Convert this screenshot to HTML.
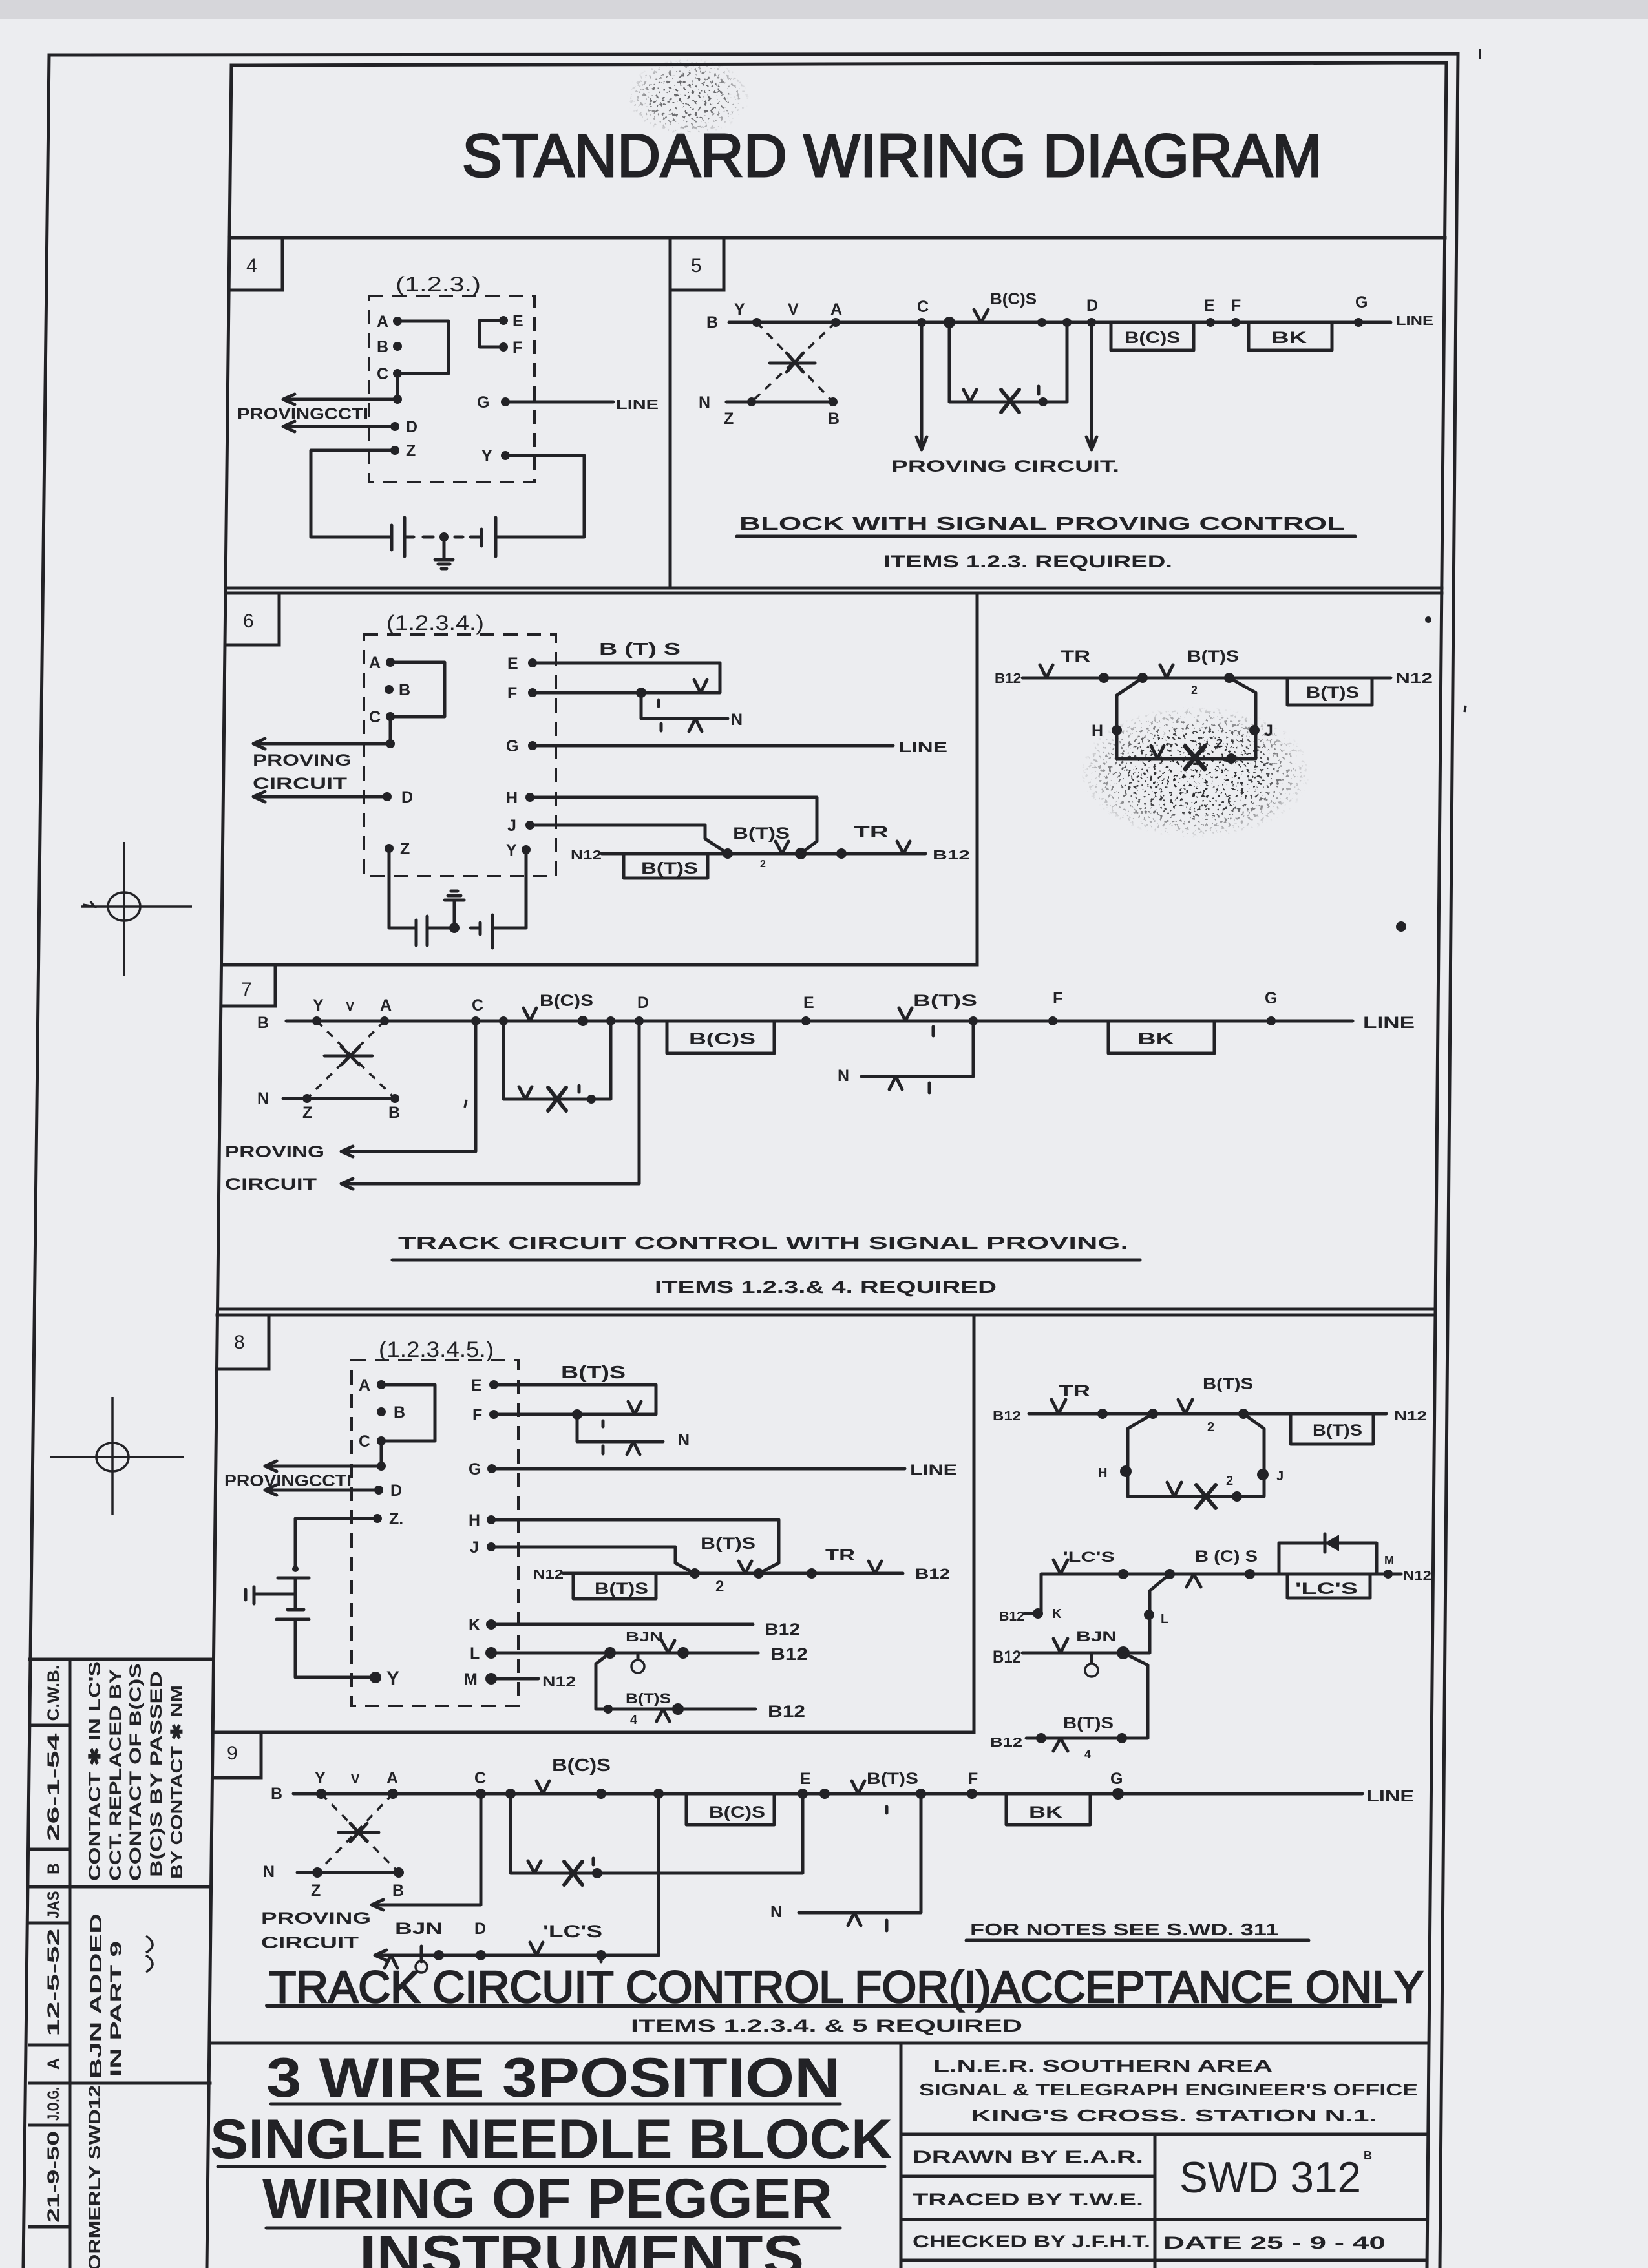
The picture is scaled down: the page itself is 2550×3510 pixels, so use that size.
<!DOCTYPE html>
<html><head><meta charset="utf-8">
<style>
html,body{margin:0;padding:0;background:#ecedf0;width:2550px;height:3510px;overflow:hidden}
svg{display:block}
.l{stroke:#222226;stroke-width:5;fill:none;stroke-linecap:round;stroke-linejoin:round}
.fr{stroke:#222226;stroke-width:5;fill:none;stroke-linecap:square}
.th{stroke:#222226;stroke-width:3.5;fill:none}
.ds{stroke:#222226;stroke-width:4;fill:none;stroke-dasharray:22 14}
.dx{stroke:#222226;stroke-width:3.5;fill:none;stroke-dasharray:12 11}
.k{fill:#222226}
text{font-family:"Liberation Sans",Arial,sans-serif;fill:#222226;font-weight:bold;font-size:25px}
.n{font-weight:normal;font-size:30px}
.sm{font-size:20px}
</style></head><body>
<svg width="2550" height="3510" viewBox="0 0 2550 3510" xmlns="http://www.w3.org/2000/svg">
<defs>
<filter id="spk" x="-10%" y="-10%" width="120%" height="120%" color-interpolation-filters="sRGB">
<feTurbulence type="fractalNoise" baseFrequency="0.2" numOctaves="2" seed="7" result="n"/>
<feColorMatrix in="n" type="matrix" values="0 0 0 0 0.12 0 0 0 0 0.12 0 0 0 0 0.13 50 0 0 0 -31" result="t"/>
<feComposite in="t" in2="SourceGraphic" operator="in"/>
</filter>
<radialGradient id="rg"><stop offset="0" stop-color="#000" stop-opacity="1"/><stop offset="0.6" stop-color="#000" stop-opacity="0.85"/><stop offset="1" stop-color="#000" stop-opacity="0"/></radialGradient>
</defs>
<rect width="2550" height="3510" fill="#ecedf0"/>
<rect width="2550" height="30" fill="#d6d6da"/>
<ellipse cx="1065" cy="150" rx="95" ry="60" fill="url(#rg)" filter="url(#spk)" opacity="0.7"/>
<ellipse cx="1850" cy="1195" rx="178" ry="102" fill="url(#rg)" filter="url(#spk)"/>
<circle class="k" cx="2210" cy="959" r="5"/>
<circle class="k" cx="2168" cy="1434" r="8"/>
<path class="th" d="M2290,76 V92 M2268,1092 L2266,1102"/>

<!-- frames -->
<path class="fr" d="M76,85 L2256,83 L2228,3510 M76,85 L36,3510"/>
<path class="fr" d="M358,101 L2238,97 L2208,3510 M358,101 L320,3510"/>
<path class="fr" d="M355,368 H2236 M349,910 H2231 M349,918 H2231 M343,1493 H1512 M1512,918 V1493 M337,2026 H2221 M336,2035 H2221 M1507,2035 V2681 M329,2681 H1507 M324,3162 H2211 M1037,368 V910"/>
<path class="fr" d="M437,368 V449 H356 M1120,368 V449 H1037 M432,918 V998 H348 M426,1493 V1557 H342 M416,2035 V2119 H335 M404,2681 V2751 H329"/>
<path class="fr" d="M1394,3162 V3510 M1394,3303 H2210 M1787,3303 V3510 M1394,3368 H1787 M1394,3435 H2208 M1394,3498 H2208"/>
<path class="fr" d="M46,2568 H327 M108,2568 V3510 M46,2670 H108 M46,2862 H108 M46,2920 H327 M46,2976 H108 M46,3165 H108 M46,3224 H325 M46,3289 H108 M46,3446 H108"/>

<!-- crosshairs -->
<ellipse cx="192" cy="1403" rx="25" ry="22" class="th"/>
<path class="th" d="M126,1403 H297 M192,1303 V1510 M128,1400 L146,1403 L140,1395"/>
<ellipse cx="174" cy="2255" rx="25" ry="22" class="th"/>
<path class="th" d="M77,2255 H285 M174,2162 V2345"/>

<!-- title -->
<text x="715" y="273" style="font-size:94px;font-weight:normal;stroke:#222226;stroke-width:3" textLength="1331" lengthAdjust="spacingAndGlyphs">STANDARD WIRING DIAGRAM</text>

<!-- PANEL 4 -->
<text class="n" x="381" y="421">4</text>
<text x="612" y="451" style="font-size:32px;font-weight:normal" textLength="132" lengthAdjust="spacingAndGlyphs">(1.2.3.)</text>
<rect x="571" y="458" width="256" height="288" class="ds"/>
<path class="l" d="M615,497 H694 V578 H615 V618 H440 M611,660 H440 M779,496 H742 V537 H779 M782,622 H949 M611,697 H481 V831 H606 M782,705 H904 V831 H767"/>
<path class="l" d="M456,610 L438,618 L456,626 M456,652 L438,660 L456,668"/>
<path class="l" d="M606,813 V851 M626,801 V861 M767,801 V861 M745,819 V845 M626,831 H640 M655,831 H670 M704,831 H716 M728,831 H745"/>
<path class="l" d="M687,831 V864 M673,866 H701 M678,873 H696 M683,880 H691"/>
<g class="k"><circle cx="615" cy="497" r="7"/><circle cx="615" cy="536" r="7"/><circle cx="615" cy="578" r="7"/><circle cx="615" cy="618" r="7"/><circle cx="611" cy="660" r="7"/><circle cx="611" cy="697" r="7"/><circle cx="779" cy="496" r="7"/><circle cx="779" cy="537" r="7"/><circle cx="782" cy="622" r="7"/><circle cx="782" cy="705" r="7"/><circle cx="687" cy="831" r="7"/></g>
<text x="583" y="506">A</text><text x="583" y="545">B</text><text x="583" y="587">C</text><text x="628" y="669">D</text><text x="628" y="706">Z</text>
<text x="793" y="505">E</text><text x="793" y="546">F</text><text x="738" y="631">G</text><text x="745" y="714">Y</text>
<text class="sm" x="953" y="633" textLength="66" lengthAdjust="spacingAndGlyphs">LINE</text>
<text x="367" y="649" textLength="203" lengthAdjust="spacingAndGlyphs">PROVINGCCTI</text>

<!-- PANEL 5 -->
<text class="n" x="1069" y="421">5</text>
<path class="l" d="M1128,499 H2152 M1719,499 V542 H1847 V499 M1932,499 V542 H2061 V499 M1507,479 L1518,499 L1529,479"/>
<path class="dx" d="M1171,499 L1289,622 M1293,499 L1163,622"/>
<path class="l" d="M1191,562 H1261 M1217,546 L1243,576 M1243,546 L1217,576 M1124,622 H1289"/>
<path class="l" d="M1426,499 V694 M1418,676 L1426,696 L1434,676 M1689,499 V694 M1681,676 L1689,696 L1697,676"/>
<path class="l" d="M1469,499 V622 H1651 V499 M1491,603 L1501,622 L1511,603 M1607,598 V610"/>
<path class="l" style="stroke-width:6" d="M1549,603 L1577,638 M1577,603 L1549,638"/>
<g class="k"><circle cx="1171" cy="499" r="7"/><circle cx="1293" cy="499" r="7"/><circle cx="1426" cy="499" r="7"/><circle cx="1469" cy="499" r="9"/><circle cx="1612" cy="499" r="7"/><circle cx="1651" cy="499" r="7"/><circle cx="1689" cy="499" r="7"/><circle cx="1873" cy="499" r="7"/><circle cx="1912" cy="499" r="7"/><circle cx="2102" cy="499" r="7"/><circle cx="1163" cy="622" r="7"/><circle cx="1289" cy="622" r="7"/><circle cx="1614" cy="622" r="7"/></g>
<text x="1093" y="507">B</text><text x="1136" y="487">Y</text><text x="1219" y="487">V</text><text x="1285" y="487">A</text><text x="1419" y="483">C</text>
<text x="1532" y="471" textLength="72" lengthAdjust="spacingAndGlyphs">B(C)S</text>
<text x="1681" y="481">D</text><text x="1863" y="481">E</text><text x="1905" y="481">F</text><text x="2097" y="476">G</text>
<text class="sm" x="2160" y="503" textLength="58" lengthAdjust="spacingAndGlyphs">LINE</text>
<text x="1740" y="531" textLength="86" lengthAdjust="spacingAndGlyphs">B(C)S</text>
<text x="1967" y="531" textLength="55" lengthAdjust="spacingAndGlyphs">BK</text>
<text x="1081" y="631">N</text><text x="1120" y="656">Z</text><text x="1281" y="656">B</text>
<text x="1379" y="730" textLength="353" lengthAdjust="spacingAndGlyphs">PROVING CIRCUIT.</text>
<text x="1144" y="820" style="font-size:29px" textLength="937" lengthAdjust="spacingAndGlyphs">BLOCK WITH SIGNAL PROVING CONTROL</text>
<path class="l" d="M1140,830 H2097"/>
<text x="1367" y="878" style="font-size:27px" textLength="447" lengthAdjust="spacingAndGlyphs">ITEMS 1.2.3. REQUIRED.</text>

<!-- PANEL 6 -->
<text class="n" x="376" y="971">6</text>
<text x="598" y="975" style="font-size:32px;font-weight:normal" textLength="151" lengthAdjust="spacingAndGlyphs">(1.2.3.4.)</text>
<rect x="563" y="982" width="297" height="374" class="ds"/>
<path class="l" d="M604,1025 H688 V1109 H604 V1151 H394 M599,1233 H394 M410,1143 L392,1151 L410,1159 M410,1225 L392,1233 L410,1241"/>
<path class="l" d="M824,1026 H1114 V1072 H824 M1074,1052 L1084,1072 L1094,1052 M992,1072 V1112 H1126 M1066,1132 L1076,1112 L1086,1132 M1019,1084 V1093 M1023,1120 V1131"/>
<path class="l" d="M824,1154 H1382 M820,1234 H1264 V1302 L1239,1321 M820,1277 H1091 V1298 L1126,1321 M931,1321 H1432 M965,1321 V1359 H1095 V1321 M1200,1302 L1210,1321 L1220,1302 M1388,1302 L1398,1321 L1408,1302"/>
<path class="l" d="M602,1313 V1436 H644 M814,1315 V1436 H762 M644,1424 V1463 M661,1418 V1463 M661,1436 H703 M728,1436 H743 M743,1428 V1446 M762,1416 V1467 M703,1436 V1395 M688,1393 H718 M693,1386 H713 M698,1379 H708"/>
<g class="k"><circle cx="604" cy="1025" r="7"/><circle cx="602" cy="1067" r="7"/><circle cx="604" cy="1109" r="7"/><circle cx="604" cy="1151" r="7"/><circle cx="599" cy="1233" r="7"/><circle cx="602" cy="1313" r="7"/><circle cx="824" cy="1026" r="7"/><circle cx="824" cy="1072" r="7"/><circle cx="824" cy="1154" r="7"/><circle cx="820" cy="1234" r="7"/><circle cx="820" cy="1277" r="7"/><circle cx="814" cy="1315" r="7"/><circle cx="992" cy="1072" r="8"/><circle cx="1126" cy="1321" r="8"/><circle cx="1239" cy="1321" r="9"/><circle cx="1302" cy="1321" r="8"/><circle cx="703" cy="1436" r="8"/></g>
<text x="571" y="1034">A</text><text x="617" y="1076">B</text><text x="571" y="1118">C</text><text x="621" y="1242">D</text><text x="619" y="1322">Z</text>
<text x="785" y="1035">E</text><text x="785" y="1081">F</text><text x="783" y="1163">G</text><text x="783" y="1243">H</text><text x="785" y="1286">J</text><text x="783" y="1324">Y</text>
<text x="391" y="1185" textLength="153" lengthAdjust="spacingAndGlyphs">PROVING</text>
<text x="391" y="1221" textLength="146" lengthAdjust="spacingAndGlyphs">CIRCUIT</text>
<text x="927" y="1013" style="font-size:26px" textLength="126" lengthAdjust="spacingAndGlyphs">B (T) S</text>
<text x="1131" y="1122">N</text>
<text style="font-size:22px" x="1390" y="1164" textLength="76" lengthAdjust="spacingAndGlyphs">LINE</text>
<text class="sm" x="883" y="1330" textLength="48" lengthAdjust="spacingAndGlyphs">N12</text>
<text class="sm" x="1443" y="1330" textLength="58" lengthAdjust="spacingAndGlyphs">B12</text>
<text x="992" y="1352" textLength="88" lengthAdjust="spacingAndGlyphs">B(T)S</text>
<text x="1134" y="1298" textLength="88" lengthAdjust="spacingAndGlyphs">B(T)S</text>
<text style="font-size:16px" x="1176" y="1342">2</text>
<text x="1321" y="1296" textLength="54" lengthAdjust="spacingAndGlyphs">TR</text>

<!-- PANEL 6 RIGHT -->
<path class="l" d="M1582,1049 H2152 M1609,1029 L1619,1049 L1629,1029 M1795,1029 L1805,1049 L1815,1029 M1992,1049 V1091 H2123 V1049 M1768,1049 L1728,1076 V1174 H1943 V1072 L1902,1049 M1781,1154 L1791,1174 L1801,1154"/>
<path class="l" style="stroke-width:7" d="M1834,1155 L1864,1190 M1864,1155 L1834,1190"/>
<g class="k"><circle cx="1708" cy="1049" r="8"/><circle cx="1768" cy="1049" r="8"/><circle cx="1902" cy="1049" r="8"/><circle cx="1728" cy="1130" r="8"/><circle cx="1941" cy="1130" r="8"/><circle cx="1905" cy="1174" r="8"/></g>
<text style="font-size:22px" x="1539" y="1057" textLength="41" lengthAdjust="spacingAndGlyphs">B12</text>
<text style="font-size:22px" x="2159" y="1057" textLength="58" lengthAdjust="spacingAndGlyphs">N12</text>
<text x="1641" y="1024" textLength="46" lengthAdjust="spacingAndGlyphs">TR</text>
<text x="1837" y="1024" textLength="80" lengthAdjust="spacingAndGlyphs">B(T)S</text>
<text style="font-size:18px" x="1843" y="1074">2</text>
<text x="2021" y="1080" textLength="82" lengthAdjust="spacingAndGlyphs">B(T)S</text>
<text x="1689" y="1139">H</text><text x="1956" y="1139">J</text>
<text style="font-size:18px" x="1882" y="1156">2</text>

<!-- PANEL 7 -->
<text class="n" x="373" y="1541">7</text>
<path class="l" d="M443,1580 H2093 M810,1560 L820,1580 L830,1560 M1391,1560 L1401,1580 L1411,1560 M1444,1589 V1603 M1032,1580 V1630 H1198 V1580 M1715,1580 V1630 H1879 V1580"/>
<path class="dx" d="M490,1580 L611,1700 M595,1580 L475,1700"/>
<path class="l" d="M502,1634 H576 M528,1620 L556,1648 M556,1620 L528,1648 M438,1700 H611"/>
<path class="l" d="M736,1580 V1782 H530 M546,1774 L528,1782 L546,1790 M989,1580 V1832 H530 M546,1824 L528,1832 L546,1840"/>
<path class="l" d="M779,1580 V1701 H945 V1580 M803,1682 L813,1701 L823,1682 M896,1680 V1690 M1506,1580 V1666 H1333 M1376,1686 L1386,1666 L1396,1686 M1438,1676 V1691"/>
<path class="l" style="stroke-width:6" d="M848,1683 L876,1719 M876,1683 L848,1719"/>
<path class="th" d="M722,1702 L719,1714"/>
<g class="k"><circle cx="490" cy="1580" r="7"/><circle cx="595" cy="1580" r="7"/><circle cx="736" cy="1580" r="7"/><circle cx="779" cy="1580" r="7"/><circle cx="902" cy="1580" r="8"/><circle cx="945" cy="1580" r="7"/><circle cx="989" cy="1580" r="7"/><circle cx="1247" cy="1580" r="7"/><circle cx="1506" cy="1580" r="7"/><circle cx="1629" cy="1580" r="7"/><circle cx="1967" cy="1580" r="7"/><circle cx="475" cy="1700" r="7"/><circle cx="611" cy="1700" r="7"/><circle cx="915" cy="1701" r="7"/></g>
<text x="398" y="1591">B</text><text x="484" y="1564">Y</text><text class="sm" x="535" y="1564">V</text><text x="588" y="1564">A</text><text x="730" y="1564">C</text>
<text x="835" y="1557" textLength="83" lengthAdjust="spacingAndGlyphs">B(C)S</text>
<text x="986" y="1560">D</text><text x="1243" y="1560">E</text>
<text x="1413" y="1557" textLength="99" lengthAdjust="spacingAndGlyphs">B(T)S</text>
<text x="1629" y="1553">F</text><text x="1957" y="1553">G</text>
<text x="2109" y="1591" textLength="80" lengthAdjust="spacingAndGlyphs">LINE</text>
<text x="1066" y="1616" textLength="103" lengthAdjust="spacingAndGlyphs">B(C)S</text>
<text x="1760" y="1616" textLength="57" lengthAdjust="spacingAndGlyphs">BK</text>
<text x="398" y="1708">N</text><text x="468" y="1730">Z</text><text x="601" y="1730">B</text>
<text x="1296" y="1673">N</text>
<text x="348" y="1791" textLength="154" lengthAdjust="spacingAndGlyphs">PROVING</text>
<text x="348" y="1841" textLength="142" lengthAdjust="spacingAndGlyphs">CIRCUIT</text>
<text x="616" y="1933" style="font-size:28px" textLength="1130" lengthAdjust="spacingAndGlyphs">TRACK CIRCUIT CONTROL WITH SIGNAL PROVING.</text>
<path class="l" d="M607,1950 H1764"/>
<text x="1013" y="2001" style="font-size:27px" textLength="529" lengthAdjust="spacingAndGlyphs">ITEMS 1.2.3.&amp; 4. REQUIRED</text>

<!-- PANEL 8 -->
<text class="n" x="362" y="2087">8</text>
<text x="586" y="2100" style="font-size:34px;font-weight:normal" textLength="178" lengthAdjust="spacingAndGlyphs">(1.2.3.4.5.)</text>
<rect x="544" y="2105" width="258" height="535" class="ds"/>
<path class="l" d="M590,2143 H673 V2230 H590 V2269 H412 M586,2306 H412 M428,2261 L410,2269 L428,2277 M428,2298 L410,2306 L428,2314"/>
<path class="l" d="M584,2350 H457 V2428 M430,2442 H478 M457,2442 V2491 M457,2467 H393 M393,2456 V2482 M380,2460 V2476 M445,2491 H470 M428,2506 H478 M457,2506 V2596 H581"/>
<path class="l" d="M764,2143 H1015 V2189 H764 M972,2169 L982,2189 L992,2169 M893,2189 V2231 H1026 M970,2251 L980,2231 L990,2251 M933,2199 V2208 M933,2238 V2250"/>
<path class="l" d="M761,2273 H1400 M760,2352 H1205 V2419 L1174,2435 M760,2394 H1045 V2419 L1075,2435 M872,2435 H1397 M887,2435 V2474 H1015 V2435 M1143,2416 L1153,2435 L1163,2416 M1344,2416 L1354,2435 L1364,2416"/>
<path class="l" d="M760,2514 H1165 M760,2558 H1173 M1024,2539 L1034,2558 L1044,2539 M987,2558 V2568 M944,2558 L922,2575 V2645 H1169 M1016,2664 L1026,2645 L1036,2664 M760,2598 H833"/>
<circle cx="987" cy="2579" r="10" class="th"/>
<g class="k"><circle cx="590" cy="2143" r="7"/><circle cx="590" cy="2185" r="7"/><circle cx="590" cy="2230" r="7"/><circle cx="590" cy="2269" r="7"/><circle cx="586" cy="2306" r="7"/><circle cx="584" cy="2350" r="7"/><circle cx="581" cy="2596" r="9"/><circle cx="457" cy="2428" r="5"/><circle cx="764" cy="2143" r="7"/><circle cx="764" cy="2189" r="7"/><circle cx="761" cy="2273" r="7"/><circle cx="760" cy="2352" r="7"/><circle cx="760" cy="2394" r="7"/><circle cx="760" cy="2514" r="8"/><circle cx="760" cy="2558" r="9"/><circle cx="760" cy="2598" r="9"/><circle cx="893" cy="2189" r="8"/><circle cx="1075" cy="2435" r="8"/><circle cx="1174" cy="2435" r="8"/><circle cx="1256" cy="2435" r="8"/><circle cx="944" cy="2558" r="9"/><circle cx="1057" cy="2558" r="9"/><circle cx="941" cy="2645" r="7"/><circle cx="1049" cy="2645" r="9"/></g>
<text x="555" y="2152">A</text><text x="609" y="2194">B</text><text x="555" y="2239">C</text><text x="604" y="2315">D</text><text x="602" y="2359">Z.</text>
<text x="598" y="2607" style="font-size:30px">Y</text>
<text x="729" y="2152">E</text><text x="731" y="2198">F</text><text x="725" y="2282">G</text><text x="725" y="2361">H</text><text x="727" y="2403">J</text>
<text x="725" y="2523">K</text><text x="727" y="2567">L</text><text x="718" y="2607">M</text>
<text x="347" y="2300" textLength="197" lengthAdjust="spacingAndGlyphs">PROVINGCCTI</text>
<text x="868" y="2133" style="font-size:28px" textLength="100" lengthAdjust="spacingAndGlyphs">B(T)S</text>
<text x="1049" y="2237">N</text>
<text style="font-size:22px" x="1408" y="2282" textLength="73" lengthAdjust="spacingAndGlyphs">LINE</text>
<text class="sm" x="825" y="2443" textLength="47" lengthAdjust="spacingAndGlyphs">N12</text>
<text style="font-size:22px" x="1416" y="2443" textLength="54" lengthAdjust="spacingAndGlyphs">B12</text>
<text x="920" y="2467" textLength="83" lengthAdjust="spacingAndGlyphs">B(T)S</text>
<text x="1084" y="2397" textLength="85" lengthAdjust="spacingAndGlyphs">B(T)S</text>
<text style="font-size:24px" x="1107" y="2463">2</text>
<text x="1277" y="2415" textLength="46" lengthAdjust="spacingAndGlyphs">TR</text>
<text x="1183" y="2530" textLength="55" lengthAdjust="spacingAndGlyphs">B12</text>
<text class="sm" x="968" y="2540" textLength="58" lengthAdjust="spacingAndGlyphs">BJN</text>
<text style="font-size:27px" x="1192" y="2569" textLength="58" lengthAdjust="spacingAndGlyphs">B12</text>
<text style="font-size:22px" x="968" y="2636" textLength="70" lengthAdjust="spacingAndGlyphs">B(T)S</text>
<text class="sm" x="975" y="2668">4</text>
<text x="1188" y="2657" textLength="58" lengthAdjust="spacingAndGlyphs">B12</text>
<text style="font-size:22px" x="839" y="2610" textLength="52" lengthAdjust="spacingAndGlyphs">N12</text>

<!-- PANEL 8 RIGHT -->
<path class="l" d="M1592,2188 H2145 M1627,2166 L1638,2188 L1649,2166 M1823,2166 L1834,2188 L1845,2166 M1997,2188 V2235 H2125 V2188 M1784,2188 L1745,2211 V2316 H1956 V2211 L1924,2188 M1806,2294 L1817,2316 L1828,2294"/>
<path class="l" style="stroke-width:6" d="M1851,2298 L1881,2334 M1881,2298 L1851,2334"/>
<path class="l" d="M1611,2436 H2168 M1611,2436 V2497 M1585,2497 H1606 M1630,2414 L1641,2436 L1652,2414 M1836,2456 L1847,2436 L1858,2456 M1992,2436 V2473 H2120 V2436 M1979,2436 V2388 H2130 V2436 M2050,2374 V2402"/>
<path class="k" d="M2050,2388 L2072,2375 L2072,2401 Z"/>
<path class="l" d="M1810,2436 L1779,2462 V2558 H1738 M1582,2558 H1738 M1630,2536 L1641,2558 L1652,2536 M1689,2558 V2574 M1738,2558 L1776,2577 V2690 H1735 M1588,2690 H1776 M1630,2710 L1641,2690 L1652,2710"/>
<circle cx="1689" cy="2585" r="10" class="th"/>
<g class="k"><circle cx="1706" cy="2188" r="8"/><circle cx="1784" cy="2188" r="8"/><circle cx="1924" cy="2188" r="8"/><circle cx="1742" cy="2277" r="9"/><circle cx="1954" cy="2282" r="9"/><circle cx="1914" cy="2316" r="8"/><circle cx="1606" cy="2497" r="8"/><circle cx="1738" cy="2436" r="8"/><circle cx="1810" cy="2436" r="8"/><circle cx="1934" cy="2436" r="8"/><circle cx="2148" cy="2436" r="7"/><circle cx="1778" cy="2499" r="8"/><circle cx="1738" cy="2558" r="10"/><circle cx="1611" cy="2690" r="8"/><circle cx="1736" cy="2690" r="8"/></g>
<text class="sm" x="1536" y="2198" textLength="44" lengthAdjust="spacingAndGlyphs">B12</text>
<text class="sm" x="2157" y="2198" textLength="51" lengthAdjust="spacingAndGlyphs">N12</text>
<text x="1638" y="2161" textLength="49" lengthAdjust="spacingAndGlyphs">TR</text>
<text x="1861" y="2150" textLength="78" lengthAdjust="spacingAndGlyphs">B(T)S</text>
<text class="sm" x="1868" y="2215">2</text>
<text x="2031" y="2222" textLength="77" lengthAdjust="spacingAndGlyphs">B(T)S</text>
<text class="sm" x="1699" y="2286">H</text><text class="sm" x="1975" y="2291">J</text>
<text class="sm" x="1897" y="2298">2</text>
<text class="sm" x="2171" y="2445" textLength="44" lengthAdjust="spacingAndGlyphs">N12</text>
<text style="font-size:18px" x="2142" y="2421">M</text>
<text class="sm" x="1546" y="2508" textLength="39" lengthAdjust="spacingAndGlyphs">B12</text>
<text class="sm" x="1628" y="2504">K</text>
<text style="font-size:22px" x="1645" y="2417" textLength="80" lengthAdjust="spacingAndGlyphs">'LC'S</text>
<text x="1849" y="2417" textLength="97" lengthAdjust="spacingAndGlyphs">B (C) S</text>
<text x="2004" y="2467" textLength="97" lengthAdjust="spacingAndGlyphs">'LC'S</text>
<text class="sm" x="1796" y="2512">L</text>
<text style="font-size:27px" x="1536" y="2573" textLength="44" lengthAdjust="spacingAndGlyphs">B12</text>
<text style="font-size:22px" x="1665" y="2540" textLength="63" lengthAdjust="spacingAndGlyphs">BJN</text>
<text x="1645" y="2675" textLength="78" lengthAdjust="spacingAndGlyphs">B(T)S</text>
<text class="sm" x="1532" y="2703" textLength="50" lengthAdjust="spacingAndGlyphs">B12</text>
<text style="font-size:18px" x="1678" y="2721">4</text>

<!-- PANEL 9 -->
<text class="n" x="351" y="2723">9</text>
<path class="l" d="M454,2776 H2108 M830,2756 L840,2776 L850,2756 M1318,2756 L1328,2776 L1338,2756 M1372,2796 V2806 M1062,2776 V2824 H1198 V2776 M1557,2776 V2824 H1687 V2776"/>
<path class="dx" d="M497,2776 L617,2898 M608,2776 L491,2898"/>
<path class="l" d="M524,2836 H586 M542,2822 L568,2850 M568,2822 L542,2850 M460,2898 H617"/>
<path class="l" d="M744,2776 V2948 H577 M593,2940 L575,2948 L593,2956"/>
<path class="l" d="M790,2776 V2899 H1242 V2776 M817,2880 L827,2899 L837,2880 M918,2876 V2886"/>
<path class="l" style="stroke-width:6" d="M873,2881 L901,2917 M901,2881 L873,2917"/>
<path class="l" d="M1019,2776 V3026 H582 M598,3018 L580,3026 L598,3034 M820,3006 L830,3026 L840,3006 M595,3046 L605,3026 L615,3046 M652,3012 V3036 M930,3026 V3036"/>
<circle cx="652" cy="3044" r="9" class="th"/>
<path class="l" d="M1425,2776 V2960 H1236 M1312,2980 L1322,2960 L1332,2980 M1372,2972 V2988"/>
<g class="k"><circle cx="497" cy="2776" r="8"/><circle cx="608" cy="2776" r="8"/><circle cx="744" cy="2776" r="8"/><circle cx="790" cy="2776" r="8"/><circle cx="930" cy="2776" r="8"/><circle cx="1019" cy="2776" r="8"/><circle cx="1242" cy="2776" r="8"/><circle cx="1276" cy="2776" r="8"/><circle cx="1425" cy="2776" r="8"/><circle cx="1504" cy="2776" r="8"/><circle cx="1730" cy="2776" r="9"/><circle cx="491" cy="2898" r="8"/><circle cx="617" cy="2898" r="8"/><circle cx="924" cy="2899" r="8"/><circle cx="679" cy="3026" r="8"/><circle cx="744" cy="3026" r="8"/><circle cx="930" cy="3026" r="8"/></g>
<text x="419" y="2784">B</text><text x="487" y="2760">Y</text><text class="sm" x="543" y="2760">V</text><text x="598" y="2760">A</text><text x="734" y="2760">C</text>
<text x="854" y="2741" style="font-size:28px" textLength="91" lengthAdjust="spacingAndGlyphs">B(C)S</text>
<text x="1238" y="2761">E</text>
<text x="1341" y="2761" textLength="80" lengthAdjust="spacingAndGlyphs">B(T)S</text>
<text x="1498" y="2761">F</text><text x="1718" y="2761">G</text>
<text x="2114" y="2788" textLength="74" lengthAdjust="spacingAndGlyphs">LINE</text>
<text x="1097" y="2813" textLength="87" lengthAdjust="spacingAndGlyphs">B(C)S</text>
<text x="1592" y="2813" textLength="52" lengthAdjust="spacingAndGlyphs">BK</text>
<text x="407" y="2905">N</text><text x="481" y="2934">Z</text><text x="607" y="2934">B</text>
<text x="404" y="2977" textLength="170" lengthAdjust="spacingAndGlyphs">PROVING</text>
<text x="404" y="3015" textLength="151" lengthAdjust="spacingAndGlyphs">CIRCUIT</text>
<text x="611" y="2993" textLength="74" lengthAdjust="spacingAndGlyphs">BJN</text>
<text x="734" y="2993">D</text>
<text x="840" y="2998" style="font-size:27px" textLength="92" lengthAdjust="spacingAndGlyphs">'LC'S</text>
<text x="1192" y="2967">N</text>
<text x="1501" y="2995" style="font-size:26px" textLength="477" lengthAdjust="spacingAndGlyphs">FOR NOTES  SEE  S.WD. 311</text>
<path class="l" d="M1495,3003 H2025"/>
<text x="416" y="3099" style="font-size:70px;font-weight:normal;stroke:#222226;stroke-width:2.5" textLength="1787" lengthAdjust="spacingAndGlyphs">TRACK CIRCUIT CONTROL FOR(I)ACCEPTANCE ONLY</text>
<path class="l" style="stroke-width:6" d="M413,3104 H2136"/>
<text x="976" y="3144" style="font-size:27px" textLength="606" lengthAdjust="spacingAndGlyphs">ITEMS 1.2.3.4. &amp; 5 REQUIRED</text>

<!-- TITLE BLOCK -->
<text x="412" y="3245" style="font-size:86px" textLength="888" lengthAdjust="spacingAndGlyphs">3 WIRE 3POSITION</text>
<path class="l" d="M419,3256 H1300"/>
<text x="325" y="3340" style="font-size:86px" textLength="1056" lengthAdjust="spacingAndGlyphs">SINGLE NEEDLE BLOCK</text>
<path class="l" d="M337,3353 H1369"/>
<text x="406" y="3432" style="font-size:86px" textLength="882" lengthAdjust="spacingAndGlyphs">WIRING OF PEGGER</text>
<path class="l" d="M412,3448 H1300"/>
<text x="556" y="3520" style="font-size:86px" textLength="688" lengthAdjust="spacingAndGlyphs">INSTRUMENTS</text>
<text x="1444" y="3206" style="font-size:26px" textLength="525" lengthAdjust="spacingAndGlyphs">L.N.E.R.  SOUTHERN  AREA</text>
<text x="1422" y="3243" style="font-size:26px" textLength="772" lengthAdjust="spacingAndGlyphs">SIGNAL &amp; TELEGRAPH ENGINEER'S OFFICE</text>
<text x="1502" y="3283" style="font-size:26px" textLength="629" lengthAdjust="spacingAndGlyphs">KING'S CROSS.  STATION N.1.</text>
<text x="1412" y="3347" style="font-size:27px" textLength="357" lengthAdjust="spacingAndGlyphs">DRAWN BY  E.A.R.</text>
<text x="1412" y="3413" style="font-size:27px" textLength="357" lengthAdjust="spacingAndGlyphs">TRACED BY  T.W.E.</text>
<text x="1412" y="3478" style="font-size:27px" textLength="368" lengthAdjust="spacingAndGlyphs">CHECKED BY J.F.H.T.</text>
<text x="1825" y="3393" style="font-size:68px;font-weight:normal" textLength="281" lengthAdjust="spacingAndGlyphs">SWD 312</text>
<text x="2110" y="3342" style="font-size:18px">B</text>
<text x="1800" y="3480" style="font-size:27px" textLength="344" lengthAdjust="spacingAndGlyphs">DATE  25 - 9 - 40</text>

<!-- REVISION TABLE -->
<g style="font-size:32px">
<text transform="translate(91,2620) rotate(-90)" text-anchor="middle" textLength="87" lengthAdjust="spacingAndGlyphs">C.W.B.</text>
<text transform="translate(91,2766) rotate(-90)" text-anchor="middle" textLength="167" lengthAdjust="spacingAndGlyphs">26-1-54</text>
<text transform="translate(91,2892) rotate(-90)" text-anchor="middle">B</text>
<text transform="translate(91,2948) rotate(-90)" text-anchor="middle" textLength="43" lengthAdjust="spacingAndGlyphs">JAS</text>
<text transform="translate(91,3068) rotate(-90)" text-anchor="middle" textLength="167" lengthAdjust="spacingAndGlyphs">12-5-52</text>
<text transform="translate(91,3194) rotate(-90)" text-anchor="middle">A</text>
<text transform="translate(91,3256) rotate(-90)" text-anchor="middle" textLength="52" lengthAdjust="spacingAndGlyphs">J.O.G.</text>
<text transform="translate(91,3369) rotate(-90)" text-anchor="middle" textLength="142" lengthAdjust="spacingAndGlyphs">21-9-50</text>
</g>
<g style="font-size:24px">
<text transform="translate(155,2911) rotate(-90)" textLength="340" lengthAdjust="spacingAndGlyphs">CONTACT ✱ IN LC'S</text>
<text transform="translate(187,2911) rotate(-90)" textLength="328" lengthAdjust="spacingAndGlyphs">CCT. REPLACED BY</text>
<text transform="translate(218,2911) rotate(-90)" textLength="337" lengthAdjust="spacingAndGlyphs">CONTACT OF B(C)S</text>
<text transform="translate(250,2905) rotate(-90)" textLength="319" lengthAdjust="spacingAndGlyphs">B(C)S BY PASSED</text>
<text transform="translate(282,2908) rotate(-90)" textLength="300" lengthAdjust="spacingAndGlyphs">BY CONTACT ✱ NM</text>
<text transform="translate(157,3217) rotate(-90)" textLength="256" lengthAdjust="spacingAndGlyphs">BJN ADDED</text>
<text transform="translate(188,3214) rotate(-90)" textLength="210" lengthAdjust="spacingAndGlyphs">IN PART 9</text>
<text transform="translate(155,3535) rotate(-90)" textLength="308" lengthAdjust="spacingAndGlyphs">FORMERLY SWD12</text>
</g>
<path class="th" d="M226,2996 Q246,3010 226,3022 M226,3026 Q246,3040 226,3052 M236,3009 V3011 M236,3039 V3041"/>
</svg>
</body></html>
